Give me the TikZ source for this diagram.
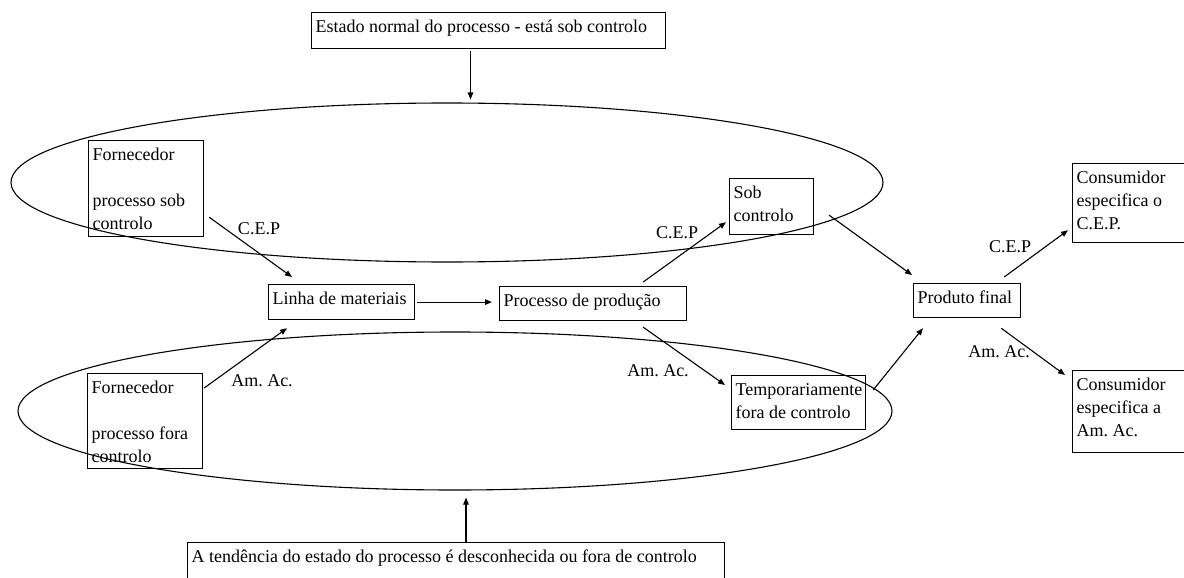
\documentclass[tikz,border=0pt]{standalone}
\usepackage{fontspec}
\setmainfont{Liberation Serif}
\usetikzlibrary{arrows.meta,shapes.geometric,calc}
\frenchspacing
\newcommand\bx[3]{\parbox[t][#2pt][t]{\dimexpr#1pt-8pt\relax}{\raggedright\frenchspacing\rule{0pt}{20pt}#3}}
\begin{document}
\begin{tikzpicture}[x=1pt,y=-1pt,
  box/.style={draw, line width=1.2pt, inner xsep=4pt, inner ysep=0pt, anchor=north west, font=\fontsize{18}{23}\selectfont},
  ell/.style={draw, ellipse, line width=1.1pt, inner sep=0pt},
  lbl/.style={inner sep=0pt, font=\fontsize{18}{23}\selectfont},
  arr/.style={line width=1.1pt, -{Triangle[length=7pt,width=5.5pt]}}]
\useasboundingbox (0,0) rectangle (1184,578);
\clip (0,0) rectangle (1184,578);

\node[box] (top) at (311,12) {\bx{354}{36}{Estado normal do processo - está sob controlo}};
\node[ell, minimum width=872pt, minimum height=159pt] (ellA) at (447,182.5) {};
\node[ell, minimum width=874pt, minimum height=158pt] (ellB) at (455,411) {};
\node[box] (bot) at (187,542) {\bx{537}{50}{A tendência do estado do processo é desconhecida ou fora de controlo}};
\node[box] (fa) at (88,140) {\bx{115}{96}{Fornecedor\\[23pt]processo sob\\controlo}};
\node[box] (fb) at (87,373) {\bx{115}{95}{Fornecedor\\[23pt]processo fora\\controlo}};
\node[box] (linha) at (268,284) {\bx{146}{35}{Linha de materiais}};
\node[box] (proc) at (499,286) {\bx{187}{34}{Processo de produção}};
\node[box] (sob) at (729,178) {\bx{84}{56}{Sob\\controlo}};
\node[box] (temp) at (731,375) {\bx{134}{54}{Temporariamente\\fora de controlo}};
\node[box] (prod) at (913,283) {\bx{107}{34}{Produto final}};
\node[box] (consA) at (1072,163) {\bx{130}{79}{Consumidor\\especifica o\\C.E.P.}};
\node[box] (consB) at (1072,370) {\bx{130}{82}{Consumidor\\especifica a\\Am. Ac.}};

\node[lbl] (l1) at (259,229) {C.E.P};
\node[lbl] (l2) at (262,381) {Am. Ac.};
\node[lbl] (l3) at (677,233) {C.E.P};
\node[lbl] (l4) at (658,371) {Am. Ac.};
\node[lbl] (l5) at (1010,247) {C.E.P};
\node[lbl] (l6) at (999,352) {Am. Ac.};

\draw[arr] ($(fa.south east)+(5,-20)$) -- ($(linha.north west)+(24,-7)$);
\draw[arr] ($(fb.north east)+(1,15)$) -- ($(linha.south west)+(19,8)$);
\draw[arr] ($(linha.east)+(2,0)$) -- ($(linha.east -| proc.west)+(-7,0)$);
\draw[arr] ($(proc.north east)+(-44,-4)$) -- ($(sob.south west)+(-3,-13)$);
\draw[arr] ($(proc.south east)+(-44,6)$) -- ($(temp.north west)+(-6,10)$);
\draw[arr] ($(sob.south east)+(15,-20)$) -- ($(prod.north west)+(-1,-8)$);
\draw[arr] ($(temp.north east)+(7,15)$) -- ($(prod.south west)+(10,10)$);
\draw[arr] ($(prod.north east)+(-17,-6)$) -- ($(consA.south west)+(-4,-13)$);
\draw[arr] ($(prod.south east)+(-20,10)$) -- ($(consB.north west)+(-7,5)$);
\draw[arr] ($(top.south west)+(159.5,2)$) coordinate (t1) -- ($(t1 |- ellA.north)+(0,-3)$);
\draw[arr] ($(bot.north west)+(279,1)$) coordinate (b1) -- ($(b1 |- ellB.south)+(0,7)$);
\end{tikzpicture}
\end{document}
